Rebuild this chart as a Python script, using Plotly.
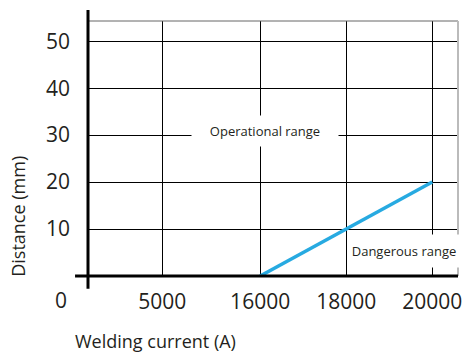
import plotly.graph_objects as go
import numpy as np

# ---- data ----
x_tick_values = [5000, 16000, 18000, 20000]
x_tick_labels = ["5000", "16000", "18000", "20000"]
y_tick_values = [10, 20, 30, 40, 50]
y_tick_labels = ["10", "20", "30", "40", "50"]
danger_current = [16000, 18000, 20000]   # A
danger_distance = [0, 10, 20]            # mm

# ---- non-linear (broken) x scale: value -> axis slot ----
SCALE_VALUES = [0, 5000, 16000, 18000, 20000]
SCALE_SLOTS = [-25, 75, 174, 261, 348]
X_RANGE = [0, 374]
Y_RANGE = [0, 54.3]


def xmap(v):
    return list(np.interp(v, SCALE_VALUES, SCALE_SLOTS))


FONT = "Open Sans"
TXT = "#231f20"

fig = go.Figure()
fig.add_trace(go.Scatter(
    x=xmap(danger_current), y=danger_distance, mode="lines",
    line=dict(color="#27aae1", width=3.5), showlegend=False, hoverinfo="skip"))

fig.update_layout(
    width=468, height=354,
    margin=dict(l=88, r=6, t=21, b=78),
    paper_bgcolor="white", plot_bgcolor="white",
    font=dict(family=FONT, color=TXT),
    xaxis=dict(range=X_RANGE, tickvals=xmap(x_tick_values), ticktext=x_tick_labels,
               showgrid=True, gridcolor="black", gridwidth=1, zeroline=False,
               showline=False, ticks="", tickfont=dict(size=21, color=TXT),
               ticklabelstandoff=11, fixedrange=True),
    yaxis=dict(range=Y_RANGE, tickvals=y_tick_values, ticktext=y_tick_labels,
               showgrid=True, gridcolor="black", gridwidth=1, zeroline=False,
               showline=False, ticks="", tickfont=dict(size=21, color=TXT),
               ticklabelstandoff=17, fixedrange=True),
    shapes=[
        # frame: top (dark gray) and right (light gray)
        dict(type="line", xref="paper", yref="paper", x0=0, x1=1, y0=1, y1=1,
             line=dict(color="#666666", width=1)),
        dict(type="line", xref="paper", yref="paper", x0=1, x1=1, y0=0, y1=1,
             line=dict(color="#bbbbbb", width=2)),
        # thick axes
        dict(type="line", xref="paper", yref="paper", x0=-0.035, x1=1, y0=0, y1=0,
             line=dict(color="black", width=3)),
        dict(type="line", xref="paper", yref="paper", x0=0, x1=0, y0=-0.05, y1=1.043,
             line=dict(color="black", width=3)),
    ],
    annotations=[
        dict(text="Operational range", x=xmap([16000])[0] + 5, y=30.8, xref="x", yref="y",
             showarrow=False, bgcolor="white", width=144, height=28,
             font=dict(size=13, color=TXT, family=FONT)),
        dict(text="Dangerous range", x=xmap([18000])[0] + 58, y=5.4, xref="x", yref="y",
             showarrow=False, bgcolor="white", width=110, height=30,
             font=dict(size=13, color=TXT, family=FONT)),
        dict(text="0", xref="paper", yref="paper", x=-0.051, y=-0.094,
             xanchor="right", yanchor="middle", showarrow=False,
             font=dict(size=21, color=TXT, family=FONT)),
        dict(text="Distance (mm)", xref="paper", yref="paper", x=-0.19, y=0.235,
             xanchor="center", yanchor="middle", textangle=-90, showarrow=False,
             font=dict(size=18, color=TXT, family=FONT)),
        dict(text="Welding current (A)", xref="paper", yref="paper", x=-0.04, y=-0.255,
             xanchor="left", yanchor="middle", showarrow=False,
             font=dict(size=18, color=TXT, family=FONT)),
    ],
)

fig.write_html("out.html", config={"displayModeBar": False},
               post_script="document.body.style.margin='0';")
